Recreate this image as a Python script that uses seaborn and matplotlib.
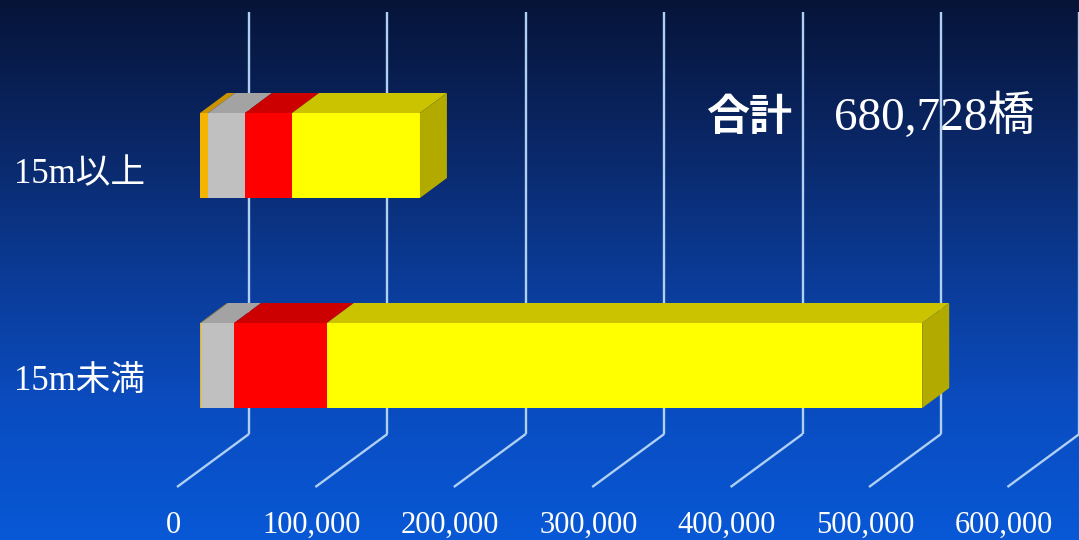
import numpy as np
import pandas as pd
import matplotlib
matplotlib.use("Agg")
import matplotlib.pyplot as plt
from matplotlib.patches import Polygon
import seaborn as sns

# Bridge counts by span length, stacked by segment
categories = ["15m以上", "15m未満"]
orange_part = [5800, 800]
grey_part = [26700, 23800]
red_part = [34000, 67100]
yellow_part = [92400, 430128]
tick_values = [0, 100000, 200000, 300000, 400000, 500000, 600000]
total_title = "合計"
total_text = "680,728橋"

W, H, DPI = 1079, 540, 100
PX_PER_UNIT = 138.4 / 100000      # horizontal scale
ROW_PX = 210                      # vertical distance between category rows
X0_PX = 200                       # pixel column of value 0 on the bar front
ROW0_PX = 155.5                   # pixel row of the first bar centre
BAR_H = 85 / ROW_PX


def dx(px):
    return px / PX_PER_UNIT


def xdat(px):
    return (px - X0_PX) / PX_PER_UNIT


def ydat(py):
    return (py - ROW0_PX) / ROW_PX


sns.set_theme(style="white")
plt.rcParams["font.family"] = ["Liberation Serif", "Noto Sans CJK JP"]

fig = plt.figure(figsize=(W / DPI, H / DPI), dpi=DPI)

# vertical blue gradient background
bg = fig.add_axes([0, 0, 1, 1], zorder=0)
t = np.linspace(0, 1, H)
stops = [0.0, 0.25, 0.5, 0.75, 1.0]
cols = np.array([(6, 20, 56), (10, 38, 100), (11, 58, 148), (10, 76, 192), (8, 88, 214)]) / 255
grad = np.stack([np.interp(t, stops, cols[:, k]) for k in range(3)], axis=-1)[:, None, :]
bg.imshow(grad, aspect="auto", extent=(0, 1, 1, 0))
bg.set_axis_off()

ax = fig.add_axes([0, 0, 1, 1], zorder=1)
ax.patch.set_alpha(0)

df = pd.DataFrame({
    "category": categories,
    "orange": orange_part,
    "grey": grey_part,
    "red": red_part,
    "yellow": yellow_part,
})
seg_cols = ["orange", "grey", "red", "yellow"]
front = {"orange": "#f4b400", "grey": "#c0c0c0", "red": "#ff0000", "yellow": "#ffff00"}
top = {"orange": "#c99400", "grey": "#a3a3a3", "red": "#cc0000", "yellow": "#cbc300"}
side_color = "#b3aa00"

ends = df[seg_cols].cumsum(axis=1)
starts = ends - df[seg_cols]
for c in seg_cols:
    df[c + "_end"] = ends[c]

# stacked front faces: draw the longest cumulative bar first
for c in reversed(seg_cols):
    sns.barplot(data=df, x=c + "_end", y="category", orient="h", color=front[c],
                saturation=1, width=BAR_H, ax=ax, zorder=3, linewidth=0,
                edgecolor="none")

# depth of the bars (top and right faces)
DX, DY = dx(27), -20 / ROW_PX
for i in range(len(categories)):
    y_top = i - BAR_H / 2
    y_bot = i + BAR_H / 2
    for c in seg_cols:
        l, r = starts.loc[i, c], ends.loc[i, c]
        ax.add_patch(Polygon([(l, y_top), (r, y_top), (r + DX, y_top + DY), (l + DX, y_top + DY)],
                             closed=True, facecolor=top[c], edgecolor="none", zorder=3))
    R = ends.loc[i, "yellow"]
    ax.add_patch(Polygon([(R, y_top), (R + DX, y_top + DY), (R + DX, y_bot + DY), (R, y_bot)],
                         closed=True, facecolor=side_color, edgecolor="none", zorder=3))

# back-wall gridlines with floor diagonals
grid_col = "#b0d0f2"
for v in tick_values:
    xb = v + dx(49)
    xf = v - dx(23)
    ax.plot([xb, xb], [ydat(434), ydat(12)], color=grid_col, lw=1.7, zorder=1,
            solid_capstyle="butt")
    ax.plot([xf, xb], [ydat(487), ydat(434)], color=grid_col, lw=1.7, zorder=1,
            solid_capstyle="butt")
    ax.text(v - dx(27), ydat(533), f"{v:,}", ha="center", va="baseline",
            fontsize=22, color="white", zorder=4)

# category labels
label_rows = [183, 390]
for name, py in zip(categories, label_rows):
    ax.text(xdat(14), ydat(py), name, ha="left", va="baseline", fontsize=25,
            color="white", zorder=4)

# total annotation
ax.text(xdat(706), ydat(130), total_title, ha="left", va="baseline", fontsize=31,
        color="white", fontweight="bold", family=["Noto Sans CJK JP"], zorder=4)
ax.text(xdat(834), ydat(130), total_text, ha="left", va="baseline", fontsize=34,
        color="white", family=["Liberation Serif", "Noto Sans CJK JP"], zorder=4)

ax.set_xlim(xdat(0), xdat(W))
ax.set_ylim(ydat(H), ydat(0))
ax.set_axis_off()

fig.savefig("out.png", dpi=DPI)
